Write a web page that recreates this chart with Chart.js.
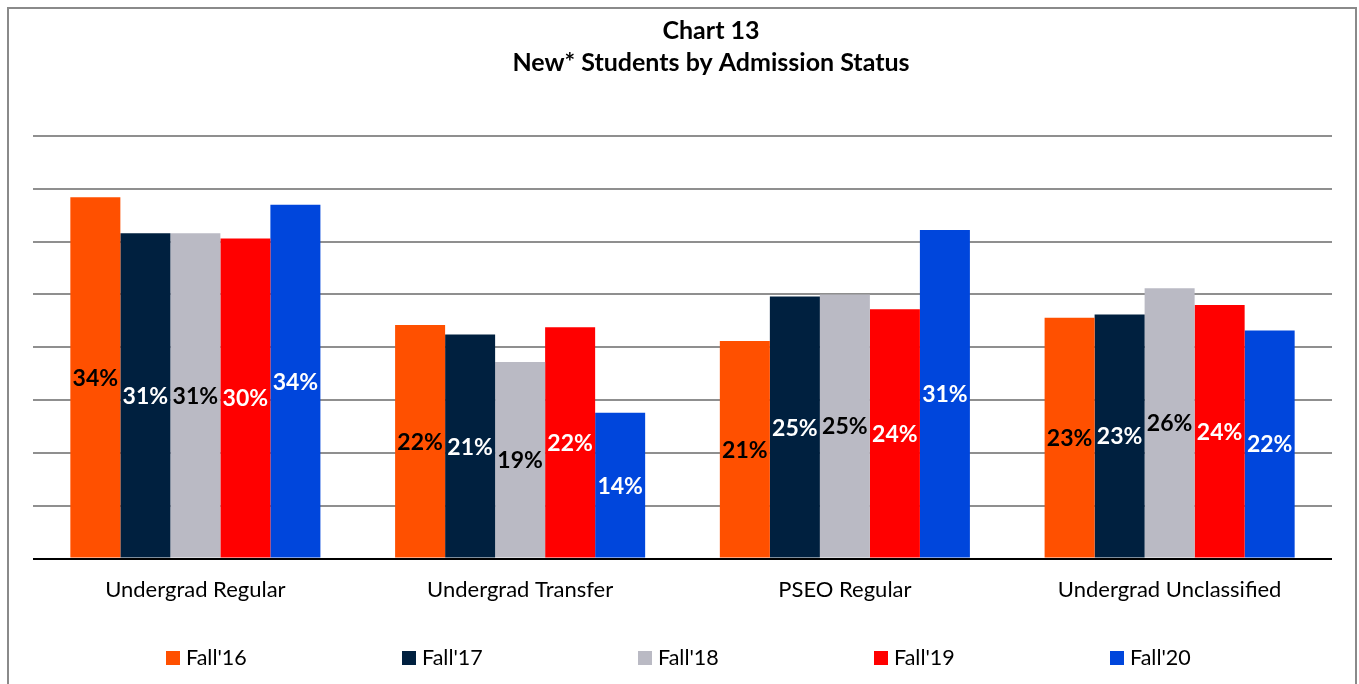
<!DOCTYPE html>
<html>
<head>
<meta charset="utf-8">
<script src="https://cdn.jsdelivr.net/npm/chart.js@4"></script>
<style>
  body { margin: 0; overflow: hidden; background: #fff; }
  #frame { position: absolute; left: 7px; top: 7px; width: 1346px; height: 720px; border: 2px solid #8a8a8a; }
  #wrap { position: absolute; left: 0; top: 0; width: 1359px; height: 684px; }
</style>
</head>
<body>
<div id="frame"></div>
<div id="wrap"><canvas id="chart13"></canvas></div>
<script>
const categories = ["Undergrad Regular", "Undergrad Transfer", "PSEO Regular", "Undergrad Unclassified"];
const seriesNames = ["Fall'16", "Fall'17", "Fall'18", "Fall'19", "Fall'20"];
const fall16 = [34.2, 22.1, 20.6, 22.8];
const fall17 = [30.8, 21.2, 24.8, 23.1];
const fall18 = [30.8, 18.6, 25.0, 25.6];
const fall19 = [30.3, 21.9, 23.6, 24.0];
const fall20 = [33.5, 13.8, 31.1, 21.6];
const barColors = ["#ff5000", "#00203f", "#babac4", "#ff0000", "#0046dc"];
const labelColors = ["#000", "#fff", "#000", "#fff", "#fff"];
const titleLines = ["Chart 13", "New* Students by Admission Status"];

const allSeries = [fall16, fall17, fall18, fall19, fall20];

// etiquettes au centre des barres + titre + légende
const decorPlugin = {
  id: "decor",
  afterDatasetsDraw(chart) {
    const ctx = chart.ctx;
    ctx.save();
    ctx.font = "bold 23px Lato";
    ctx.textAlign = "center";
    ctx.textBaseline = "middle";
    chart.data.datasets.forEach((ds, i) => {
      const meta = chart.getDatasetMeta(i);
      meta.data.forEach((bar, j) => {
        ctx.fillStyle = labelColors[i];
        ctx.fillText(Math.round(ds.data[j]) + "%", bar.x, (bar.y + bar.base) / 2 + 1);
      });
    });
    ctx.restore();
  },
  afterDraw(chart) {
    const ctx = chart.ctx;
    const area = chart.chartArea;
    ctx.save();
    // titre
    ctx.font = "bold 25px Lato";
    ctx.fillStyle = "#000";
    ctx.textAlign = "center";
    ctx.textBaseline = "middle";
    ctx.fillText(titleLines[0], 711, 31);
    ctx.fillText(titleLines[1], 711, 63);
    // légende
    ctx.font = "21.5px Lato";
    ctx.textAlign = "left";
    const step = 236;
    let x = area.left + 133;
    chart.data.datasets.forEach((ds) => {
      ctx.fillStyle = ds.backgroundColor;
      ctx.fillRect(x, 651, 14, 14);
      ctx.fillStyle = "#000";
      ctx.fillText(ds.label, x + 20, 658);
      x += step;
    });
    ctx.restore();
  }
};

const ctx = document.getElementById("chart13").getContext("2d");
new Chart(ctx, {
  type: "bar",
  data: {
    labels: categories,
    datasets: seriesNames.map((name, i) => ({
      label: name,
      data: allSeries[i],
      backgroundColor: barColors[i],
      borderWidth: 0,
      barPercentage: 1,
      categoryPercentage: 0.77,
    })),
  },
  options: {
    responsive: true,
    maintainAspectRatio: false,
    animation: false,
    layout: { padding: { left: 33, right: 27, top: 136, bottom: 71 } },
    plugins: {
      legend: { display: false },
      title: { display: false },
      tooltip: { enabled: false },
    },
    scales: {
      x: {
        grid: { display: false },
        border: { display: false },
        ticks: { color: "#000", font: { family: "Lato", size: 22 }, padding: 10 },
      },
      y: {
        min: 0,
        max: 40,
        ticks: { stepSize: 5, display: false },
        border: { display: false },
        grid: {
          drawTicks: false,
          lineWidth: 2,
          color: (c) => (c.tick && c.tick.value === 0 ? "#000" : "#8f8f8f"),
        },
      },
    },
  },
  plugins: [decorPlugin],
});
</script>
</body>
</html>
